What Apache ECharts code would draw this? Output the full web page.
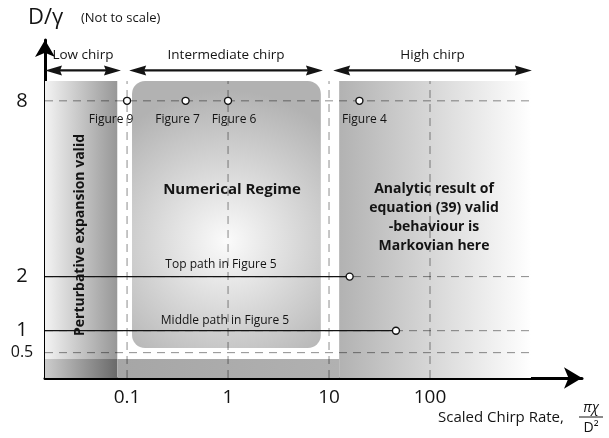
<!DOCTYPE html>
<html>
<head>
<meta charset="utf-8">
<script src="https://cdn.jsdelivr.net/npm/echarts@6/dist/echarts.min.js"></script>
<style>
  html, body { margin: 0; padding: 0; background: #fff; }
  #chart { width: 609px; height: 438px; }
</style>
</head>
<body>
<div id="chart"></div>
<script>
// ---- values ----
// scaled chirp rate ticks (log axis)
const xTicks = [0.1, 1, 10, 100];
// D/gamma ticks (vertical axis is not to scale)
const yTicks = [0.5, 1, 2, 8];
// schematic placement of D/gamma levels on the vertical axis
const yStops  = [0, 0.5, 1, 2, 8, 12];
const yPlaces = [0, 0.75, 1.4, 3, 8.2, 10];

// simulations at D/gamma = 8
const fig8Names = ['Figure 9', 'Figure 7', 'Figure 6', 'Figure 4'];
const fig8Rates = [0.1, 0.38, 1, 20];
const fig8Level = 8;

// swept paths of Figure 5
const pathNames = ['Top path in Figure 5', 'Middle path in Figure 5'];
const pathLevels = [2, 1];
const pathEndRates = [16, 46];

// axis extent
const rateMin = 0.0154;
const rateMax = 3200;
const rateEdge = 1000;       // right edge of the shaded regimes

// regimes (chirp-rate range, D/gamma range)
const lowChirpRates = [rateMin, 0.08];
const numericalRates = [0.112, 8.3];
const highChirpRates = [12.6, rateEdge];
const regimeTop = 9.3;
const frameBottom = 0.375;
const numericalBottom = 0.606;

// chirp range arrows
const rangeNames = ['Low chirp', 'Intermediate chirp', 'High chirp'];
const rangeFrom = [rateMin, 0.105, 11];
const rangeTo = [0.087, 8.7, 1020];
const rangeLevel = 10;

// ---- helpers ----
function yPlace(v) {
  for (let i = 1; i < yStops.length; i++) {
    if (v <= yStops[i]) {
      const t = (v - yStops[i - 1]) / (yStops[i] - yStops[i - 1]);
      return yPlaces[i - 1] + t * (yPlaces[i] - yPlaces[i - 1]);
    }
  }
  return yPlaces[yPlaces.length - 1];
}

const FONT = 'Open Sans';
const INK = '#141414';
const lin = (a, b) => new echarts.graphic.LinearGradient(0, 0, 1, 0, [
  { offset: 0, color: a }, { offset: 1, color: b }
]);

const regions = [
  { x: lowChirpRates, y: [frameBottom, regimeTop], fill: lin('#f3f3f3', '#979797'), r: 0 },
  { x: lowChirpRates, y: [0, frameBottom], fill: lin('#cccccc', '#6a6a6a'), r: 0 },
  { x: [lowChirpRates[1], highChirpRates[0]], y: [0, frameBottom], fill: lin('#a6a6a6', '#b1b1b1'), r: 0 },
  { x: highChirpRates, y: [0, regimeTop], fill: lin('#b2b2b2', '#ffffff'), r: 0 },
  { x: numericalRates, y: [numericalBottom, regimeTop],
    fill: new echarts.graphic.RadialGradient(0.5, 0.6, 0.8, [
      { offset: 0, color: '#fbfbfb' }, { offset: 1, color: '#b2b2b2' }
    ]), r: 13 }
];

const dashStyle = { color: 'rgba(0,0,0,0.45)', width: 1, type: [8, 6] };

const series = [];

series.push({
  type: 'custom',
  silent: true,
  z: 1,
  encode: { x: [0, 1], y: [2, 3] },
  data: regions.map(g => [g.x[0], g.x[1], yPlace(g.y[0]), yPlace(g.y[1])]),
  renderItem(params, api) {
    const g = regions[params.dataIndex];
    const p0 = api.coord([api.value(0), api.value(3)]);
    const p1 = api.coord([api.value(1), api.value(2)]);
    return {
      type: 'rect',
      shape: { x: p0[0], y: p0[1], width: p1[0] - p0[0], height: p1[1] - p0[1], r: g.r },
      style: { fill: g.fill }
    };
  }
});

// dashed guide lines at the ticks
yTicks.forEach(t => series.push({
  type: 'line', silent: true, z: 2, symbol: 'none',
  lineStyle: dashStyle,
  data: [[rateMin, yPlace(t)], [rateEdge, yPlace(t)]]
}));
xTicks.forEach(t => series.push({
  type: 'line', silent: true, z: 2, symbol: 'none',
  lineStyle: dashStyle,
  data: [[t, 0], [t, yPlace(regimeTop)]]
}));

// Figure 5 paths
pathLevels.forEach((lv, i) => series.push({
  type: 'line', silent: true, z: 3, symbol: 'none',
  lineStyle: { color: INK, width: 1.2 },
  data: [[rateMin, yPlace(lv)], [pathEndRates[i], yPlace(lv)]]
}));
series.push({
  type: 'scatter', silent: true, z: 4,
  symbol: 'circle', symbolSize: 7,
  itemStyle: { color: '#fff', borderColor: INK, borderWidth: 1.4, opacity: 1 },
  data: pathLevels.map((lv, i) => [pathEndRates[i], yPlace(lv)])
});

// simulation points at D/gamma = 8
const figShift = [-16, -8, 6, 5];
series.push({
  type: 'scatter', silent: true, z: 4,
  symbol: 'circle', symbolSize: 7,
  itemStyle: { color: '#fff', borderColor: INK, borderWidth: 1.4, opacity: 1 },
  label: {
    show: true, position: 'bottom', distance: 9,
    formatter: p => p.name, fontSize: 12, color: INK, fontFamily: FONT
  },
  data: fig8Names.map((n, i) => ({
    name: n, value: [fig8Rates[i], yPlace(fig8Level)],
    label: { offset: [figShift[i], 0] }
  }))
});

// double-headed arrows marking the chirp ranges
const HEAD_LEN = 17, HEAD_HALF = 5, HEAD_NOTCH = 2;
series.push({
  type: 'custom', silent: true, z: 5,
  encode: { x: [0, 1], y: 2 },
  data: rangeNames.map((n, i) => ({ name: n, value: [rangeFrom[i], rangeTo[i], yPlace(rangeLevel)] })),
  renderItem(params, api) {
    const a = api.coord([api.value(0), api.value(2)]);
    const b = api.coord([api.value(1), api.value(2)]);
    const y = a[1];
    const head = (tip, dir) => ({
      type: 'polygon',
      shape: { points: [
        [tip, y],
        [tip + dir * HEAD_LEN, y - HEAD_HALF],
        [tip + dir * (HEAD_LEN - HEAD_NOTCH), y],
        [tip + dir * HEAD_LEN, y + HEAD_HALF]
      ] },
      style: { fill: INK }
    });
    return {
      type: 'group',
      children: [
        { type: 'line', shape: { x1: a[0] + 6, y1: y, x2: b[0] - 6, y2: y },
          style: { stroke: INK, lineWidth: 2.3 } },
        head(a[0], 1),
        head(b[0], -1),
        { type: 'text', x: (a[0] + b[0]) / 2, y: y - 15,
          style: { text: rangeNames[params.dataIndex], font: '13.5px ' + FONT, fill: INK,
            align: 'center', verticalAlign: 'middle' } }
      ]
    };
  }
});

const option = {
  animation: false,
  backgroundColor: '#fff',
  textStyle: { fontFamily: FONT },
  grid: { left: 45, right: 27, top: 40, bottom: 60 },
  xAxis: {
    type: 'log',
    min: rateMin, max: rateMax,
    axisLine: {
      show: true, onZero: false,
      lineStyle: { color: '#000', width: 3 },
      symbol: ['none', 'arrow'], symbolSize: [16, 18]
    },
    axisTick: { show: false },
    splitLine: { show: false },
    axisLabel: {
      customValues: xTicks,
      formatter: v => String(xTicks.find(t => Math.abs(Math.log10(t) - Math.log10(v)) < 1e-6)),
      fontSize: 19, color: INK, margin: 10, fontFamily: FONT
    }
  },
  yAxis: {
    type: 'value',
    min: 0, max: 10,
    axisLine: {
      show: true, onZero: false,
      lineStyle: { color: '#000', width: 3 },
      symbol: ['none', 'arrow'], symbolSize: [15, 17]
    },
    axisTick: { show: false },
    splitLine: { show: false },
    axisLabel: {
      customValues: yTicks.map(yPlace),
      formatter: v => {
        const t = yTicks.find(k => Math.abs(yPlace(k) - v) < 1e-6);
        return t < 1 ? '{s|' + t + '}' : '{b|' + t + '}';
      },
      align: 'center', margin: 23,
      rich: {
        b: { fontSize: 20, color: INK, fontFamily: FONT },
        s: { fontSize: 16, color: INK, fontFamily: FONT }
      }
    }
  },
  series,
  graphic: [
    { type: 'text', x: 28, y: 18, z: 10,
      style: { text: 'D/γ', font: '22px ' + FONT, fill: INK, verticalAlign: 'middle' } },
    { type: 'text', x: 81, y: 18, z: 10,
      style: { text: '(Not to scale)', font: '13px ' + FONT, fill: INK, verticalAlign: 'middle' } },
    { type: 'text', x: 232, y: 190, z: 10,
      style: { text: 'Numerical Regime', font: 'bold 15px ' + FONT, fill: INK, align: 'center', verticalAlign: 'middle' } },
    { type: 'text', x: 434, y: 218, z: 10,
      style: { text: 'Analytic result of\nequation (39) valid\n-behaviour is\nMarkovian here',
        font: 'bold 14px ' + FONT, lineHeight: 19, fill: INK, align: 'center', verticalAlign: 'middle' } },
    { type: 'text', x: 80, y: 235, rotation: Math.PI / 2, z: 10,
      style: { text: 'Perturbative expansion valid', font: 'bold 14px ' + FONT, fill: INK, align: 'center', verticalAlign: 'middle' } },
    { type: 'text', x: 221, y: 265, z: 10,
      style: { text: pathNames[0], font: '12px ' + FONT, fill: INK, align: 'center', verticalAlign: 'middle' } },
    { type: 'text', x: 225, y: 321, z: 10,
      style: { text: pathNames[1], font: '12px ' + FONT, fill: INK, align: 'center', verticalAlign: 'middle' } },
    { type: 'text', x: 438, y: 418, z: 10,
      style: { text: 'Scaled Chirp Rate,', font: '15px ' + FONT, fill: INK, verticalAlign: 'middle' } },
    { type: 'text', x: 591, y: 408, z: 10,
      style: { text: 'πχ', font: 'italic 14px ' + FONT, fill: INK, align: 'center', verticalAlign: 'middle' } },
    { type: 'line', z: 10, shape: { x1: 579, y1: 417, x2: 603, y2: 417 },
      style: { stroke: INK, lineWidth: 1 } },
    { type: 'text', x: 591, y: 428, z: 10,
      style: { text: 'D²', font: '14px ' + FONT, fill: INK, align: 'center', verticalAlign: 'middle' } }
  ]
};

const chart = echarts.init(document.getElementById('chart'));
chart.setOption(option);
</script>
</body>
</html>
